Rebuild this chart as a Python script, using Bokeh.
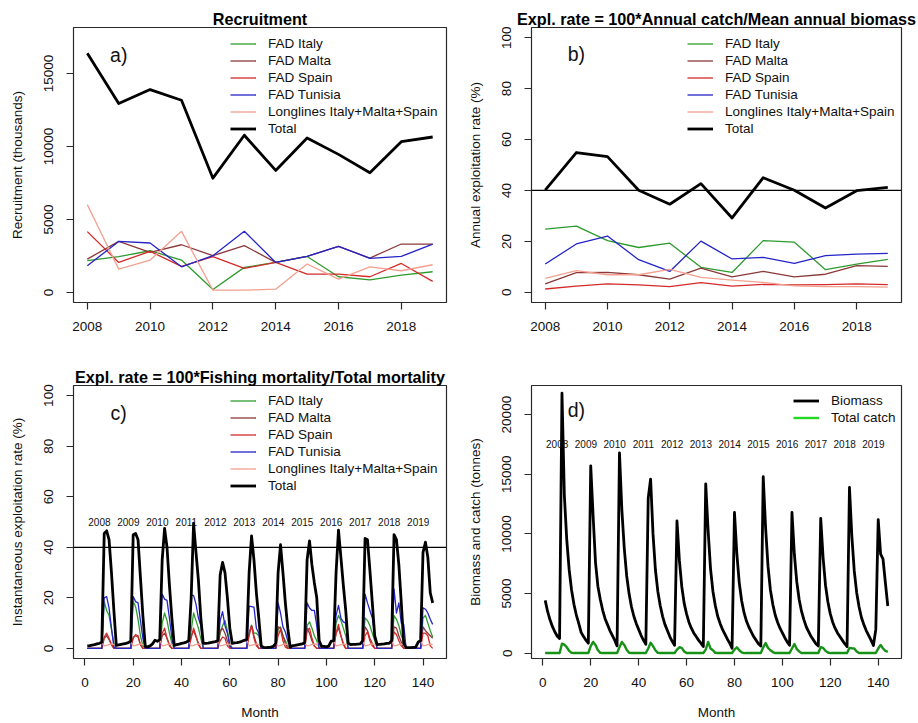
from bokeh.plotting import figure
from bokeh.models import Range1d, FixedTicker, Span, Label, Legend, LegendItem
from bokeh.layouts import column, row
from bokeh.embed import file_html
from bokeh.resources import INLINE
from bokeh.core.properties import value

FONT = "Liberation Sans"

# ---------------- data ----------------
years = [2008, 2009, 2010, 2011, 2012, 2013, 2014, 2015, 2016, 2017, 2018, 2019]
x_ticks_years = [2008, 2010, 2012, 2014, 2016, 2018]

# a) Recruitment (thousands)
rec_italy = [2180, 2450, 2860, 2220, 210, 1720, 2060, 2470, 1080, 870, 1190, 1420]
rec_malta = [2290, 3500, 2750, 3270, 2520, 3210, 2060, 2470, 3160, 2360, 3320, 3320]
rec_spain = [4170, 2060, 2820, 1790, 2450, 1650, 2060, 1260, 1260, 1080, 1990, 760]
rec_tunisia = [1830, 3500, 3390, 1760, 2520, 4190, 2060, 2470, 3160, 2340, 2470, 3320]
rec_longline = [6020, 1600, 2220, 4190, 160, 160, 230, 1950, 920, 1760, 1490, 1900]
rec_total = [16380, 12940, 13900, 13170, 7830, 10770, 8360, 10580, 9460, 8200, 10330, 10650]

# b) Annual exploitation rate (%)
er_italy = [24.8, 26.0, 20.3, 17.6, 19.3, 9.8, 7.8, 20.3, 19.7, 8.9, 11.1, 12.9]
er_malta = [3.3, 7.7, 7.8, 6.9, 5.2, 9.5, 6.1, 8.2, 6.1, 7.1, 10.5, 10.2]
er_spain = [1.3, 2.4, 3.3, 2.9, 2.2, 3.8, 2.4, 3.1, 2.9, 3.0, 3.3, 3.0]
er_tunisia = [11.1, 19.0, 22.1, 12.8, 8.2, 20.1, 13.1, 13.7, 11.4, 14.4, 15.0, 15.3]
er_longline = [5.5, 8.5, 6.9, 6.9, 9.0, 5.9, 4.8, 3.9, 2.5, 2.2, 2.2, 2.0]
er_total = [40.1, 54.9, 53.3, 40.1, 34.6, 42.7, 29.2, 45.0, 40.1, 33.1, 39.9, 41.2]
ref_rate = 40

# c) Instantaneous exploitation rate (%), monthly 1..144
months = list(range(1, 145))
month_ticks = [0, 20, 40, 60, 80, 100, 120, 140]
year_labels = ["2008", "2009", "2010", "2011", "2012", "2013",
               "2014", "2015", "2016", "2017", "2018", "2019"]

c_total = [
    1.0, 1.1, 1.3, 1.5, 1.8, 2.0, 2.4, 45.5, 46.5, 43.0, 30.0, 15.0,
    1.2, 1.4, 1.6, 1.8, 2.0, 2.3, 2.8, 45.0, 45.5, 43.0, 28.0, 13.0,
    0.8, 0.6, 1.0, 1.8, 3.2, 2.8, 3.5, 35.0, 47.5, 40.0, 25.0, 12.0,
    1.2, 1.5, 1.7, 2.0, 2.2, 2.5, 3.0, 20.0, 49.5, 38.0, 27.0, 12.0,
    2.0, 2.0, 2.1, 2.3, 2.5, 2.7, 3.0, 29.0, 34.0, 30.0, 20.0, 8.0,
    2.0, 2.2, 2.3, 2.5, 2.8, 3.2, 3.5, 30.0, 44.5, 35.0, 22.0, 12.0,
    1.0, 0.4, 0.3, 0.4, 0.5, 0.8, 2.0, 30.0, 41.0, 30.0, 18.0, 8.0,
    0.5, 1.1, 1.2, 1.4, 1.6, 1.8, 2.2, 35.0, 42.5, 33.0, 26.0, 20.0,
    3.0, 0.8, 0.8, 0.6, 1.0, 2.9, 3.0, 30.0, 46.8, 36.0, 25.0, 15.0,
    2.0, 1.5, 1.6, 1.6, 1.7, 1.8, 3.0, 43.5, 43.0, 31.0, 18.0, 5.0,
    1.5, 1.6, 1.7, 1.8, 2.0, 2.0, 3.0, 45.0, 43.0, 33.0, 18.0, 2.0,
    0.3, 0.3, 0.3, 0.4, 0.5, 2.5, 3.0, 38.0, 42.0, 36.0, 22.0, 18.0,
]
c_tunisia = [
    0, 0, 0, 0, 0, 0, 0, 20.0, 20.5, 16.0, 8.0, 0.5,
    0, 0, 0, 0, 0, 0, 0, 20.5, 18.5, 18.0, 11.0, 4.0,
    0, 0, 0, 0, 0, 0, 0, 21.5, 19.5, 19.0, 12.0, 4.0,
    0, 0, 0, 0, 0, 0, 0, 21.0, 21.0, 17.5, 12.0, 9.0,
    0, 0, 0, 0, 0, 0, 0, 11.0, 14.5, 9.0, 6.0, 1.0,
    0, 0, 0, 0, 0, 0, 0, 16.7, 16.5, 16.3, 8.0, 6.0,
    0, 0, 0, 0, 0, 0, 0, 18.0, 14.0, 8.5, 6.5, 3.0,
    0, 0, 0, 0, 0, 0, 0, 18.0, 16.0, 15.0, 15.0, 9.0,
    0, 0, 0, 0, 0, 0, 0, 13.0, 17.0, 12.0, 10.5, 10.0,
    0, 0, 0, 0, 0, 0, 0, 21.5, 18.0, 15.0, 12.0, 5.0,
    0, 0, 0, 0, 0, 0, 0, 23.5, 14.0, 18.0, 10.0, 9.5,
    0, 0, 0, 0, 0, 0, 0, 16.0, 15.5, 14.0, 11.5, 9.5,
]
c_italy = [
    0, 0, 0, 0, 0, 0, 0, 18.5, 15.0, 13.0, 7.5, 2.0,
    0, 0, 0, 0, 0, 0, 0, 18.5, 16.5, 11.5, 5.0, 1.0,
    0, 0, 0, 0, 0, 0, 0, 10.0, 14.0, 11.0, 6.0, 2.0,
    0, 0, 0, 0, 0, 0, 0, 7.0, 14.0, 11.0, 8.0, 4.0,
    0, 0, 0, 0, 0, 0, 0, 6.0, 9.0, 11.0, 7.0, 2.0,
    0, 0, 0, 0, 0, 0, 0, 6.0, 9.2, 6.0, 6.0, 5.0,
    0, 0, 0, 0, 0, 0, 0, 7.5, 8.5, 5.0, 3.0, 1.0,
    0, 0, 0, 0, 0, 0, 0, 9.0, 10.5, 8.0, 5.0, 3.0,
    0, 0, 0, 0, 0, 0, 0, 10.0, 13.0, 11.0, 8.0, 5.0,
    0, 0, 0, 0, 0, 0, 0, 12.0, 11.0, 9.0, 6.0, 3.0,
    0, 0, 0, 0, 0, 0, 0, 13.0, 11.5, 9.0, 5.0, 3.0,
    0, 0, 0, 0, 0, 0, 0, 12.0, 13.0, 10.0, 7.0, 4.5,
]
c_spain = [
    0, 0, 0, 0, 0, 0, 0, 4.5, 6.0, 4.0, 1.5, 0,
    0, 0, 0, 0, 0, 0, 0, 4.0, 5.5, 5.0, 1.5, 0,
    0, 0, 0, 0, 0, 0, 0, 6.0, 8.0, 4.0, 1.0, 0,
    0, 0, 0, 0, 0, 0, 0, 4.0, 8.0, 5.0, 1.5, 0,
    0, 0, 0, 0, 0, 0, 0, 3.0, 4.5, 4.0, 1.0, 0,
    0, 0, 0, 0, 0, 0, 0, 5.0, 9.0, 4.0, 1.0, 0,
    0, 0, 0, 0, 0, 0, 0, 5.0, 7.5, 3.0, 0.5, 0,
    0, 0, 0, 0, 0, 0, 0, 7.0, 8.0, 4.0, 1.0, 0,
    0, 0, 0, 0, 0, 0, 0, 6.0, 9.5, 5.0, 1.5, 0,
    0, 0, 0, 0, 0, 0, 0, 5.0, 6.5, 3.0, 1.0, 0,
    0, 0, 0, 0, 0, 0, 0, 6.5, 5.5, 3.0, 1.0, 0,
    0, 0, 0, 0, 0, 0, 0, 6.0, 6.0, 5.0, 1.0, 0,
]
c_malta = [
    0, 0, 0, 0, 0, 0, 0, 4.0, 5.0, 3.5, 1.5, 0,
    0, 0, 0, 0, 0, 0, 0, 4.5, 5.0, 4.5, 1.5, 0,
    0, 0, 0, 0, 0, 0, 0, 5.0, 6.0, 4.0, 1.5, 0,
    0, 0, 0, 0, 0, 0, 0, 5.0, 7.0, 4.5, 2.0, 0,
    0, 0, 0, 0, 0, 0, 0, 7.0, 8.0, 6.0, 3.0, 0.5,
    0, 0, 0, 0, 0, 0, 0, 6.0, 9.0, 5.0, 2.0, 0,
    0, 0, 0, 0, 0, 0, 0, 8.5, 8.0, 5.0, 2.0, 0,
    0, 0, 0, 0, 0, 0, 0, 8.0, 6.0, 3.0, 1.0, 0,
    0, 0, 0, 0, 0, 0, 0, 6.0, 8.0, 5.0, 2.0, 0,
    0, 0, 0, 0, 0, 0, 0, 8.5, 7.0, 4.0, 2.0, 0,
    0, 0, 0, 0, 0, 0, 0, 8.5, 8.0, 5.0, 2.5, 0,
    0, 0, 0, 0, 0, 0, 0, 8.5, 7.0, 6.0, 5.0, 4.0,
]
c_longline = [
    1.0, 1.1, 1.3, 1.5, 1.8, 2.0, 2.4, 1.0, 1.2, 1.5, 1.8, 1.5,
    1.2, 1.4, 1.6, 1.8, 2.0, 2.3, 2.8, 1.0, 1.2, 1.5, 1.8, 1.5,
    0.8, 0.6, 1.0, 1.8, 3.2, 2.8, 3.5, 1.0, 1.2, 1.5, 1.8, 1.5,
    1.2, 1.5, 1.7, 2.0, 2.2, 2.5, 3.0, 1.0, 1.2, 1.5, 1.8, 1.5,
    2.0, 2.0, 2.1, 2.3, 2.5, 2.7, 3.0, 1.0, 1.2, 1.5, 1.8, 1.5,
    2.0, 2.2, 2.3, 2.5, 2.8, 3.2, 3.5, 1.0, 1.2, 1.5, 1.8, 1.5,
    1.0, 0.4, 0.3, 0.4, 0.5, 0.8, 2.0, 1.0, 1.2, 1.5, 1.8, 1.5,
    0.5, 1.1, 1.2, 1.4, 1.6, 1.8, 2.2, 1.0, 1.2, 1.5, 1.8, 1.5,
    3.0, 0.8, 0.8, 0.6, 1.0, 2.9, 3.0, 1.0, 1.2, 1.5, 1.8, 1.5,
    2.0, 1.5, 1.6, 1.6, 1.7, 1.8, 3.0, 1.0, 1.2, 1.5, 1.8, 1.5,
    1.5, 1.6, 1.7, 1.8, 2.0, 2.0, 3.0, 1.0, 1.2, 1.5, 1.8, 1.5,
    0.3, 0.3, 0.3, 0.4, 0.5, 2.5, 3.0, 1.0, 1.2, 1.5, 1.8, 1.5,
]

# d) Biomass and total catch (tonnes), monthly
d_biomass = [
    4430, 3500, 2800, 2250, 1800, 1450, 1230, 21800, 13200, 9500, 7000, 5300,
    4100, 3200, 2500, 1750, 1400, 1100, 840, 15700, 11500, 7600, 5600, 4500,
    3600, 2900, 2400, 1900, 1500, 1100, 620, 16800, 12000, 8800, 6500, 5000,
    3900, 3100, 2500, 2000, 1500, 1100, 750, 13000, 14600, 10000, 7000, 5200,
    4000, 3100, 2400, 1900, 1400, 1000, 670, 11100, 7800, 5600, 4200, 3300,
    2600, 2100, 1700, 1400, 1100, 850, 560, 14200, 10300, 7100, 5200, 4000,
    3100, 2500, 2000, 1600, 1200, 850, 420, 11800, 8300, 5900, 4400, 3400,
    2700, 2200, 1800, 1400, 1100, 800, 610, 14800, 10500, 7300, 5300, 4100,
    3200, 2600, 2100, 1700, 1300, 950, 670, 11800, 8300, 6000, 4500, 3500,
    2800, 2200, 1800, 1400, 1100, 800, 610, 11300, 8000, 5700, 4300, 3300,
    2600, 2100, 1700, 1400, 1100, 800, 560, 13900, 9800, 6900, 5100, 3900,
    3000, 2400, 1900, 1500, 1100, 650, 2000, 11200, 8300, 7900, 5900, 3960,
]
d_catch = [
    20, 20, 20, 20, 20, 20, 20, 800, 720, 500, 200, 30,
    20, 20, 20, 20, 20, 20, 20, 600, 950, 700, 250, 30,
    20, 20, 20, 20, 20, 20, 20, 500, 950, 700, 300, 40,
    20, 20, 20, 20, 20, 20, 20, 400, 880, 600, 250, 30,
    20, 20, 20, 20, 20, 20, 20, 300, 500, 450, 150, 20,
    20, 20, 20, 20, 20, 20, 20, 300, 950, 400, 250, 30,
    20, 20, 20, 20, 20, 20, 20, 300, 500, 250, 80, 10,
    20, 20, 20, 20, 20, 20, 20, 500, 850, 450, 250, 100,
    20, 20, 20, 20, 20, 20, 20, 400, 780, 350, 150, 20,
    20, 20, 20, 20, 20, 20, 20, 500, 450, 200, 60, 10,
    20, 20, 20, 20, 20, 20, 20, 450, 420, 400, 150, 20,
    20, 20, 20, 20, 20, 20, 20, 400, 700, 400, 200, 120,
]

# ---------------- styles ----------------
COL = {
    "FAD Italy": "#2E9B2E",
    "FAD Malta": "#8B3A3A",
    "FAD Spain": "#D42A2A",
    "FAD Tunisia": "#2424C8",
    "Longlines Italy+Malta+Spain": "#F4A08F",
    "Total": "#000000",
}
THIN = 1.3
THICK = 2.8
TXT = "#111111"


def make_fig(w, h, xr, yr, bl, br, bt, bb, title, tsize, xticks, yticks, ylabel, xlabel=None):
    p = figure(width=w, height=h, x_range=Range1d(*xr), y_range=Range1d(*yr),
               output_backend="svg", toolbar_location=None,
               min_border_left=bl, min_border_right=br,
               min_border_top=bt, min_border_bottom=bb)
    p.title.text = title
    p.title.align = "center"
    p.title.text_font = FONT
    p.title.text_font_size = tsize
    p.title.text_font_style = "bold"
    p.title.text_color = "#000000"
    p.title.standoff = 0
    p.grid.visible = False
    p.outline_line_color = "#2a2a2a"
    p.outline_line_width = 1.2
    p.background_fill_color = "white"
    p.border_fill_color = "white"
    p.xaxis.ticker = FixedTicker(ticks=xticks)
    p.yaxis.ticker = FixedTicker(ticks=yticks)
    for ax in p.axis:
        ax.axis_line_color = None
        ax.major_tick_line_color = "#2a2a2a"
        ax.major_tick_line_width = 1.2
        ax.major_tick_out = 7
        ax.major_tick_in = 0
        ax.minor_tick_line_color = None
        ax.major_label_text_font = FONT
        ax.major_label_text_font_size = "13.5px"
        ax.major_label_text_color = TXT
        ax.axis_label_text_font = FONT
        ax.axis_label_text_font_size = "13.5px"
        ax.axis_label_text_font_style = "normal"
        ax.axis_label_text_color = TXT
    p.yaxis.major_label_orientation = "vertical"
    p.yaxis.major_label_standoff = 13
    p.yaxis.axis_label = ylabel
    p.yaxis.axis_label_standoff = 17
    p.xaxis.major_label_standoff = 12
    if xlabel:
        p.xaxis.axis_label = xlabel
        p.xaxis.axis_label_standoff = 15
    return p


def add_legend(p, items, loc):
    lg = Legend(items=items, location=loc, orientation="vertical",
                padding=0, spacing=0, margin=0,
                glyph_width=26, glyph_height=17, label_height=17,
                label_standoff=12, label_text_font=FONT,
                label_text_font_size="13.5px", label_text_color=TXT,
                border_line_alpha=0, background_fill_alpha=0)
    p.add_layout(lg)


def series_lines(p, xs, series):
    items = []
    for name, ys in series:
        lw = THICK if name == "Total" else THIN
        r = p.line(xs, ys, line_color=COL[name], line_width=lw, line_join="round")
        items.append(LegendItem(label=name, renderers=[r]))
    return items


def tag(p, x, y, text):
    p.add_layout(Label(x=x, y=y, text=text, text_align="center", text_baseline="middle",
                       text_font=FONT, text_font_size="19.5px", text_color=TXT))


YR = (2007.56, 2019.44)
MR = (-4.72, 149.72)

# ---- a) ----
pa = make_fig(464, 360, YR, (-685, 18150), 73, 18, 27, 58, "Recruitment", "16.2px",
              x_ticks_years, [0, 5000, 10000, 15000], "Recruitment (thousands)")
items = series_lines(pa, years, [
    ("FAD Italy", rec_italy), ("FAD Malta", rec_malta), ("FAD Spain", rec_spain),
    ("FAD Tunisia", rec_tunisia), ("Longlines Italy+Malta+Spain", rec_longline),
    ("Total", rec_total)])
add_legend(pa, items, (157, 165))
tag(pa, years[1], 16250, "a)")

# ---- b) ----
pb = make_fig(454, 360, YR, (-4, 104), 65, 17, 27, 58,
              "Expl. rate = 100*Annual catch/Mean annual biomass", "16.2px",
              x_ticks_years, [0, 20, 40, 60, 80, 100], "Annual exploitation rate (%)")
pb.add_layout(Span(location=ref_rate, dimension="width", line_color="black", line_width=1.2))
items = series_lines(pb, years, [
    ("FAD Italy", er_italy), ("FAD Malta", er_malta), ("FAD Spain", er_spain),
    ("FAD Tunisia", er_tunisia), ("Longlines Italy+Malta+Spain", er_longline),
    ("Total", er_total)])
add_legend(pb, items, (156, 165))
tag(pb, years[1], 93.5, "b)")

# ---- c) ----
pc = make_fig(464, 362, MR, (-4, 104), 73, 18, 25, 64,
              "Expl. rate = 100*Fishing mortality/Total mortality", "16.2px",
              month_ticks, [0, 20, 40, 60, 80, 100], "Instantaneous exploitation rate (%)",
              xlabel="Month")
pc.add_layout(Span(location=ref_rate, dimension="width", line_color="black", line_width=1.2))
items = series_lines(pc, months, [
    ("FAD Italy", c_italy), ("FAD Malta", c_malta), ("FAD Spain", c_spain),
    ("FAD Tunisia", c_tunisia), ("Longlines Italy+Malta+Spain", c_longline),
    ("Total", c_total)])
add_legend(pc, items, (157, 164))
pc.text(x=months[5::12], y=[50] * len(year_labels), text=year_labels,
        text_align="center", text_baseline="middle",
        text_font=value(FONT), text_font_size=value("10px"), text_color=TXT)
tag(pc, 14, 93, "c)")

# ---- d) ----
pd = make_fig(454, 362, MR, (-440, 22440), 65, 17, 25, 64, "", "16px",
              month_ticks, [0, 5000, 10000, 15000, 20000], "Biomass and catch (tonnes)",
              xlabel="Month")
rb = pd.line(months, d_biomass, line_color="black", line_width=THICK, line_join="round")
pd.line(months, d_catch, line_color="#169216", line_width=2.4, line_join="round")
# legend-only swatch for the catch line (single point: draws nothing in the plot)
rc_leg = pd.line(months[:1], d_catch[:1], line_color="#22D822", line_width=2.4)
add_legend(pd, [LegendItem(label="Biomass", renderers=[rb]),
                LegendItem(label="Total catch", renderers=[rc_leg])], (262, 232))
pd.text(x=months[5::12], y=[17500] * len(year_labels), text=year_labels,
        text_align="center", text_baseline="middle",
        text_font=value(FONT), text_font_size=value("10px"), text_color=TXT)
tag(pd, 14, 20400, "d)")

layout = column(row(pa, pb), row(pc, pd))
open("out.html", "w").write(file_html(layout, INLINE))
